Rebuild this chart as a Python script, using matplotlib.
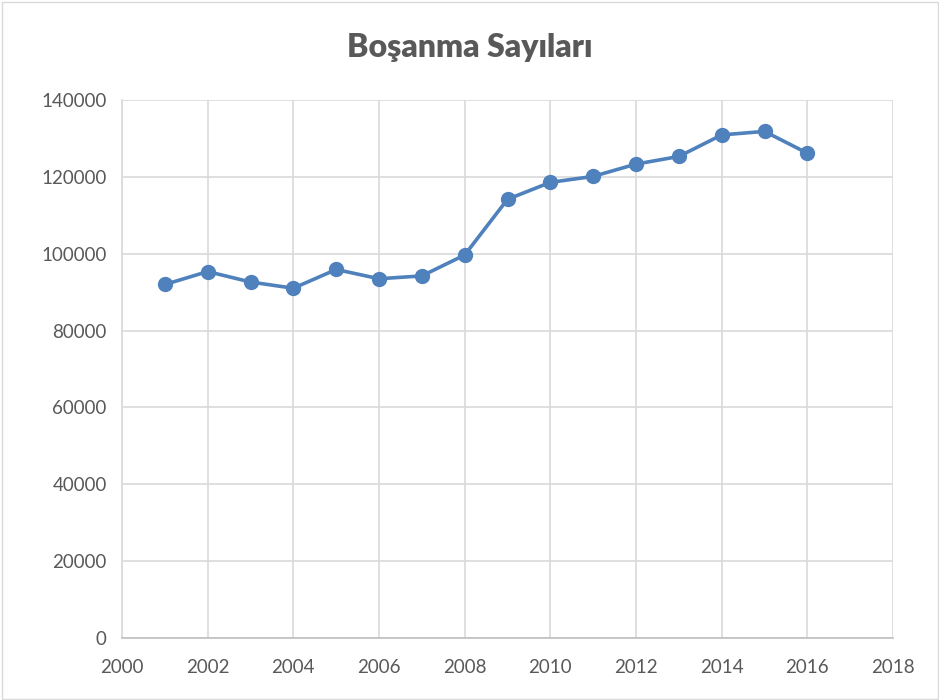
import matplotlib
matplotlib.use("Agg")
import matplotlib.pyplot as plt
from matplotlib.patches import Rectangle

years = [2001, 2002, 2003, 2004, 2005, 2006, 2007, 2008,
         2009, 2010, 2011, 2012, 2013, 2014, 2015, 2016]
divorces = [91994, 95357, 92637, 91022, 95895, 93489, 94219, 99663,
            114162, 118568, 120117, 123325, 125305, 130913, 131830, 126164]
x_ticks = [2000, 2002, 2004, 2006, 2008, 2010, 2012, 2014, 2016, 2018]
y_ticks = [0, 20000, 40000, 60000, 80000, 100000, 120000, 140000]
title = "Boşanma Sayıları"

plt.rcParams['font.family'] = ['Lato', 'DejaVu Sans']
W, H = 939, 700
fig = plt.figure(figsize=(W / 100, H / 100), dpi=100)
fig.patch.set_facecolor('white')

# outer chart border
fig.add_artist(Rectangle((1.5 / W, 1.5 / H), (W - 3) / W, (H - 3) / H,
                         transform=fig.transFigure, fill=False,
                         edgecolor='#d9d9d9', linewidth=1))

left, right, top, bottom = 122, 893, 100, 638
ax = fig.add_axes([left / W, 1 - bottom / H, (right - left) / W, (bottom - top) / H])

ax.plot(years, divorces, color='#4f81bd', linewidth=2.6, marker='o',
        markersize=10, markerfacecolor='#4f81bd', markeredgecolor='#4f81bd',
        zorder=3, clip_on=False)

ax.set_xlim(2000, 2018)
ax.set_ylim(0, 140000)
ax.set_xticks(x_ticks)
ax.set_yticks(y_ticks)
ax.set_xticklabels([str(v) for v in x_ticks])
ax.set_yticklabels([str(v) for v in y_ticks])
ax.grid(True, color='#d9d9d9', linewidth=1.2)
ax.set_axisbelow(True)

for s in ['top', 'right']:
    ax.spines[s].set_visible(False)
ax.spines['left'].set_color('#d9d9d9')
ax.spines['bottom'].set_color('#bfbfbf')
ax.spines['left'].set_linewidth(1.2)
ax.spines['bottom'].set_linewidth(1.2)

ax.tick_params(axis='both', length=0, labelsize=13.5, colors='#595959')
ax.tick_params(axis='y', pad=11)
ax.tick_params(axis='x', pad=15)

fig.text(0.5, 1 - 47 / H, title, ha='center', va='center',
         fontsize=23, fontweight='heavy', color='#595959')

fig.savefig('out.png', dpi=100)
